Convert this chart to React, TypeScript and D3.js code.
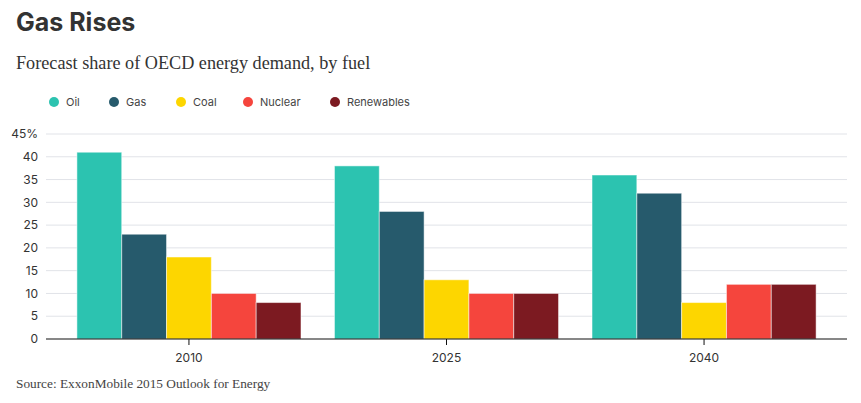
import * as React from "react";
import * as d3 from "d3";

const years = ["2010", "2025", "2040"];
const fuels = ["Oil", "Gas", "Coal", "Nuclear", "Renewables"];
const colors = ["#2cc3b0", "#265a6c", "#fdd600", "#f5453d", "#7c1a21"];
// share of demand (%) per fuel, one array per year
const share2010 = [41, 23, 18, 10, 8];
const share2025 = [38, 28, 13, 10, 10];
const share2040 = [36, 32, 8, 12, 12];
const yTicks = [0, 5, 10, 15, 20, 25, 30, 35, 40, 45];
const legendX = [54, 114, 181, 248, 335];

const W = 861, H = 403;
const margin = { top: 134, right: 14, bottom: 64, left: 46 };

export default function App() {
  const ref = React.useRef<SVGSVGElement>(null);

  React.useEffect(() => {
    const svg = d3.select(ref.current);
    svg.selectAll("*").remove();

    const rows = [share2010, share2025, share2040];
    const x0 = d3.scaleBand().domain(years).range([margin.left, W - margin.right])
      .paddingInner(0.13).paddingOuter(0.12);
    const x1 = d3.scaleBand().domain(fuels).range([0, x0.bandwidth()]);
    const y = d3.scaleLinear().domain([0, 45]).range([H - margin.bottom, margin.top]);
    const color = d3.scaleOrdinal<string, string>().domain(fuels).range(colors);

    // title block
    svg.append("text").attr("x", 16).attr("y", 31)
      .attr("font-family", "Inter, sans-serif").attr("font-weight", 700)
      .attr("font-size", 25).attr("fill", "#333").text("Gas Rises");
    svg.append("text").attr("x", 16).attr("y", 69)
      .attr("font-family", "'Liberation Serif', serif")
      .attr("font-size", 18.2).attr("fill", "#333")
      .text("Forecast share of OECD energy demand, by fuel");

    // legend
    const lg = svg.append("g").attr("font-family", "Inter, sans-serif").attr("font-size", 11);
    fuels.forEach((f, i) => {
      lg.append("circle").attr("cx", legendX[i]).attr("cy", 102).attr("r", 5).attr("fill", color(f));
      lg.append("text").attr("x", legendX[i] + 12).attr("y", 102).attr("dy", "0.35em")
        .attr("fill", "#444").text(f);
    });

    // grid + y labels
    const grid = svg.append("g");
    yTicks.forEach(t => {
      if (t > 0) {
        grid.append("line").attr("x1", margin.left).attr("x2", W - margin.right)
          .attr("y1", y(t)).attr("y2", y(t)).attr("stroke", "#e1e3e8").attr("stroke-width", 1);
      }
      grid.append("text").attr("x", 38).attr("y", y(t)).attr("dy", "0.35em")
        .attr("text-anchor", "end").attr("font-family", "Inter, sans-serif")
        .attr("font-size", 12).attr("fill", "#333").text(t === 45 ? "45%" : t);
    });

    // bars
    svg.append("g").selectAll("g")
      .data(years)
      .join("g")
      .attr("transform", d => `translate(${x0(d)},0)`)
      .selectAll("rect")
      .data((d, i) => fuels.map((f, j) => ({ fuel: f, value: rows[i][j] })))
      .join("rect")
      .attr("x", d => x1(d.fuel)!)
      .attr("width", x1.bandwidth())
      .attr("y", d => y(d.value))
      .attr("height", d => y(0) - y(d.value))
      .attr("fill", d => color(d.fuel))
      .attr("stroke", "#fff").attr("stroke-opacity", 0.5).attr("stroke-width", 1);

    // x axis
    const xa = svg.append("g").attr("transform", `translate(0,${y(0)})`);
    xa.append("line").attr("x1", margin.left).attr("x2", W - margin.right)
      .attr("stroke", "#111").attr("stroke-width", 1.2);
    years.forEach(yr => {
      const cx = x0(yr)! + x0.bandwidth() / 2;
      xa.append("line").attr("x1", cx).attr("x2", cx).attr("y1", 0).attr("y2", 6).attr("stroke", "#111");
      xa.append("text").attr("x", cx).attr("y", 23).attr("text-anchor", "middle")
        .attr("font-family", "Inter, sans-serif").attr("font-size", 12).attr("fill", "#333").text(yr);
    });

    svg.append("text").attr("x", 16).attr("y", 388)
      .attr("font-family", "'Liberation Serif', serif").attr("font-size", 13.3)
      .attr("fill", "#444").text("Source: ExxonMobile 2015 Outlook for Energy");
  }, []);

  return (
    <svg ref={ref} width={W} height={H}
      style={{ position: "absolute", left: 0, top: 0, background: "#fff" }} />
  );
}
